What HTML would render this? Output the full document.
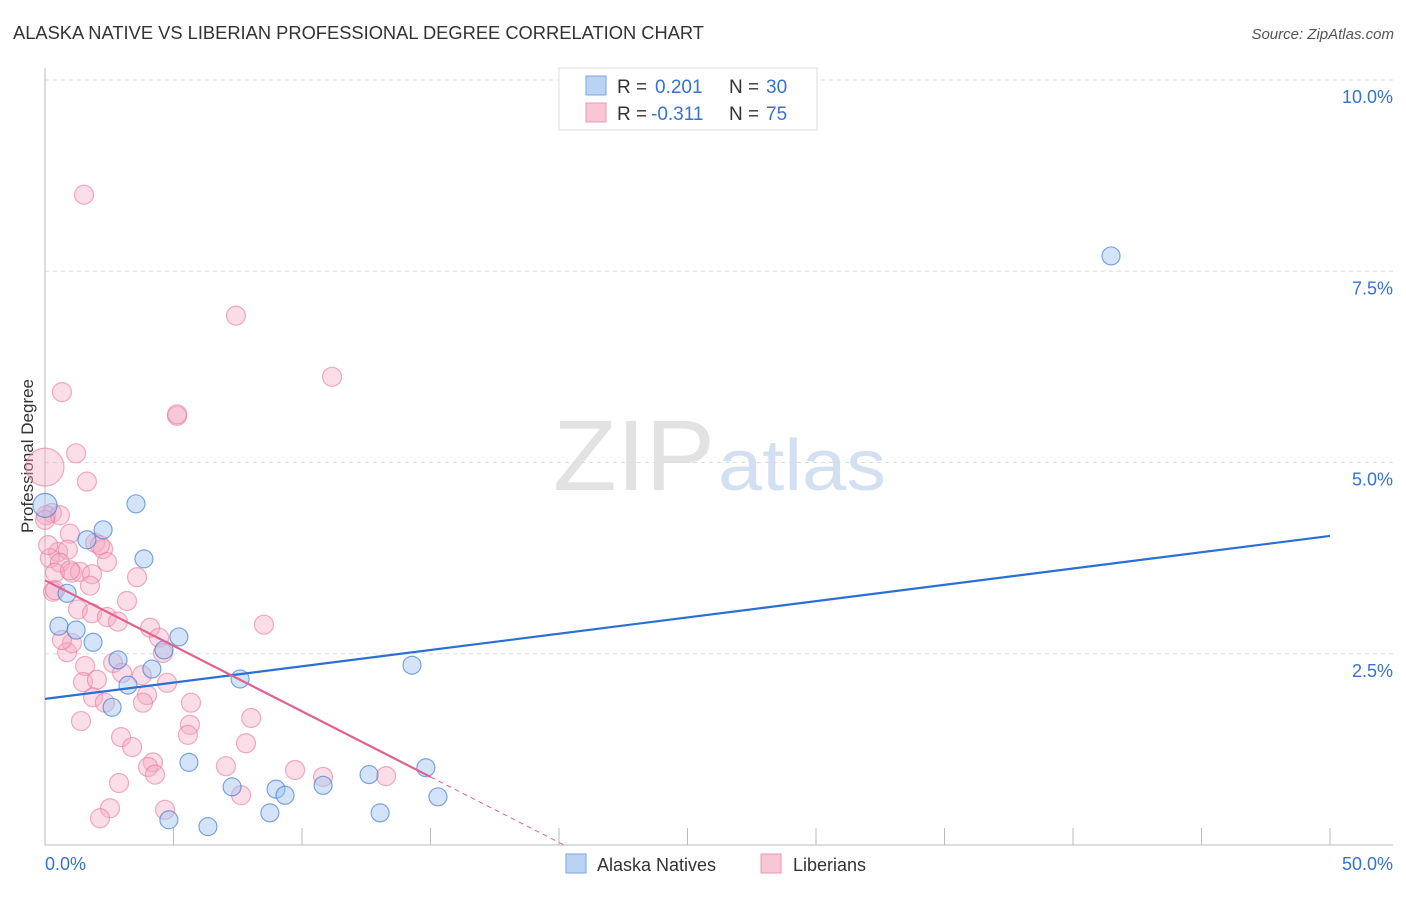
<!DOCTYPE html>
<html><head><meta charset="utf-8"><style>
body{margin:0;background:#fff;font-family:"Liberation Sans",sans-serif;}
svg text{font-family:"Liberation Sans",sans-serif;}
</style></head><body>
<svg id="chart" width="1406" height="892" viewBox="0 0 1406 892" xmlns="http://www.w3.org/2000/svg">
<text x="13" y="39" font-size="18" fill="#333" textLength="691" lengthAdjust="spacingAndGlyphs">ALASKA NATIVE VS LIBERIAN PROFESSIONAL DEGREE CORRELATION CHART</text>
<text x="1394" y="39" font-size="15" fill="#555" font-style="italic" text-anchor="end">Source: ZipAtlas.com</text>
<text transform="translate(33,456) rotate(-90)" font-size="17" fill="#333" text-anchor="middle">Professional Degree</text>
<g>
<text x="553" y="490" font-size="100" font-family="Liberation Serif" fill="#e2e2e2" textLength="162" lengthAdjust="spacingAndGlyphs">ZIP</text>
<text x="718" y="490" font-size="72" fill="#d3e0f2" textLength="168" lengthAdjust="spacingAndGlyphs">atlas</text>
</g>
<g id="grid"></g>
<g id="axes"></g>
<g id="pts"></g>
<g id="lines"></g>
<g>
<rect x="559" y="68" width="258" height="62" fill="#fff" stroke="#ddd"/>
<rect x="586" y="76" width="20" height="19" fill="#b9d3f5" stroke="#7aa6e0"/>
<rect x="586" y="103" width="20" height="19" fill="#f9c6d5" stroke="#ec97b1"/>
<text x="617" y="93" font-size="19" fill="#333">R = </text><text x="655" y="93" font-size="19" fill="#3672d0">0.201</text>
<text x="729" y="93" font-size="19" fill="#333">N = </text><text x="766" y="93" font-size="19" fill="#3672d0">30</text>
<text x="617" y="120" font-size="19" fill="#333">R = </text><text x="651" y="120" font-size="19" fill="#3672d0">-0.311</text>
<text x="729" y="120" font-size="19" fill="#333">N = </text><text x="766" y="120" font-size="19" fill="#3672d0">75</text>
</g>
<g>
<rect x="566" y="854" width="20" height="19" fill="#b9d3f5" stroke="#7aa6e0"/>
<text x="597" y="871" font-size="18" fill="#333">Alaska Natives</text>
<rect x="761" y="854" width="20" height="19" fill="#f9c6d5" stroke="#ec97b1"/>
<text x="793" y="871" font-size="18" fill="#333">Liberians</text>
</g>
</svg>
<script>
const yTicks=[2.5,5,7.5,10];
const xTickLabels=["0.0%","50.0%"];
const blueX=[0,3.54,2.26,1.63,3.85,0.86,0.54,1.21,1.87,5.21,4.63,2.84,4.16,3.23,2.61,7.59,14.28,5.60,7.28,8.99,9.34,10.82,12.61,14.82,15.29,4.82,6.34,8.75,13.04,41.48];
const blueY=[4.44,4.46,4.12,3.99,3.74,3.29,2.86,2.81,2.65,2.72,2.55,2.42,2.30,2.09,1.80,2.17,2.35,1.08,0.76,0.73,0.65,0.78,0.92,1.01,0.63,0.33,0.24,0.42,0.42,7.70];
const pinkX=[0.66,5.14,1.21,0,1.63,0.27,0.97,1.95,2.26,0.51,0.89,0.19,2.41,0.58,1.05,1.36,1.83,1.75,0.39,3.58,3.19,0.31,1.28,1.83,2.41,2.84,4.09,4.44,4.59,8.52,0.86,1.05,1.56,2.65,1.48,2.02,3.00,3.77,1.87,2.33,4.75,3.97,3.81,5.68,1.40,5.64,5.56,8.02,2.96,3.39,7.82,4.20,4.01,4.28,7.04,9.73,2.88,7.63,2.53,2.14,4.67,1.52,7.43,11.17,10.82,13.27,0.04,0.58,0,5.14,0.39,0.66,2.14,0.97,0.12];
const pinkY=[5.92,5.61,5.12,4.94,4.75,4.34,4.07,3.95,3.87,3.83,3.86,3.75,3.70,3.69,3.56,3.57,3.54,3.39,3.56,3.50,3.19,3.31,3.08,3.03,2.98,2.92,2.84,2.71,2.51,2.88,2.52,2.64,2.34,2.38,2.13,2.16,2.25,2.22,1.93,1.86,2.12,1.96,1.86,1.86,1.62,1.57,1.44,1.66,1.41,1.28,1.33,1.08,1.02,0.92,1.03,0.98,0.81,0.65,0.48,0.35,0.46,8.50,6.92,6.12,0.89,0.90,4.31,4.31,4.25,5.63,3.33,2.68,3.92,3.59,3.92];
const blueFit=[1.91,0.0426];
const pinkFit=[3.46,-0.1713];
const NS="http://www.w3.org/2000/svg";
const X=v=>45+v*25.7, Y=v=>845-v*76.5;
function mk(tag,attrs,parent){const e=document.createElementNS(NS,tag);for(const k in attrs)e.setAttribute(k,attrs[k]);parent.appendChild(e);return e;}
const grid=document.getElementById('grid'),axes=document.getElementById('axes'),pts=document.getElementById('pts'),lines=document.getElementById('lines');
yTicks.forEach(t=>{
 const l=mk('line',{x1:45,x2:1393,y1:Y(t),y2:Y(t),stroke:'#ddd','stroke-dasharray':'4,4'},grid);
 
 
 const tx=mk('text',{x:1393,y:Y(t)+23,'font-size':18,fill:'#3672d0','text-anchor':'end'},axes);
 tx.textContent=t.toFixed(1)+'%';
 
 
});
mk('line',{x1:45,x2:45,y1:68,y2:845,stroke:'#bbb'},axes);
mk('line',{x1:45,x2:1393,y1:845,y2:845,stroke:'#bbb'},axes);
for(let i=0;i<=10;i++){const tk=mk('line',{x1:X(i*5),x2:X(i*5),y1:828,y2:845,stroke:'#bbb'},axes);
 
 }
const xl0=mk('text',{x:45,y:870,'font-size':18,fill:'#3672d0'},axes);xl0.textContent=xTickLabels[0];


const xl1=mk('text',{x:1393,y:870,'font-size':18,fill:'#3672d0','text-anchor':'end'},axes);xl1.textContent=xTickLabels[1];


pinkX.forEach((v,i)=>{const r=(i===3)?19:9.5;
 const c=mk('circle',{cx:X(v),cy:Y(pinkY[i]),r:r,fill:'rgba(246,170,195,0.4)',stroke:'rgba(232,120,158,0.6)','stroke-width':1.2},pts);
 
 });
blueX.forEach((v,i)=>{const r=(i===0)?12:9;
 const c=mk('circle',{cx:X(v),cy:Y(blueY[i]),r:r,fill:'rgba(160,196,240,0.45)',stroke:'rgba(60,120,210,0.65)','stroke-width':1.2},pts);
 
 });
const bl=mk('line',{x1:X(0),y1:Y(blueFit[0]),x2:X(50),y2:Y(blueFit[0]+50*blueFit[1]),stroke:'#2a6fd4','stroke-width':2.2},lines);


const pl=mk('line',{x1:X(0),y1:Y(pinkFit[0]),x2:X(15),y2:Y(pinkFit[0]+15*pinkFit[1]),stroke:'#e2628f','stroke-width':2.2},lines);


const xz=-pinkFit[0]/pinkFit[1];
const pd=mk('line',{x1:X(15),y1:Y(pinkFit[0]+15*pinkFit[1]),x2:X(xz),y2:Y(0),stroke:'#e2628f','stroke-width':1,'stroke-dasharray':'5,4'},lines);


</script>
</body></html>
